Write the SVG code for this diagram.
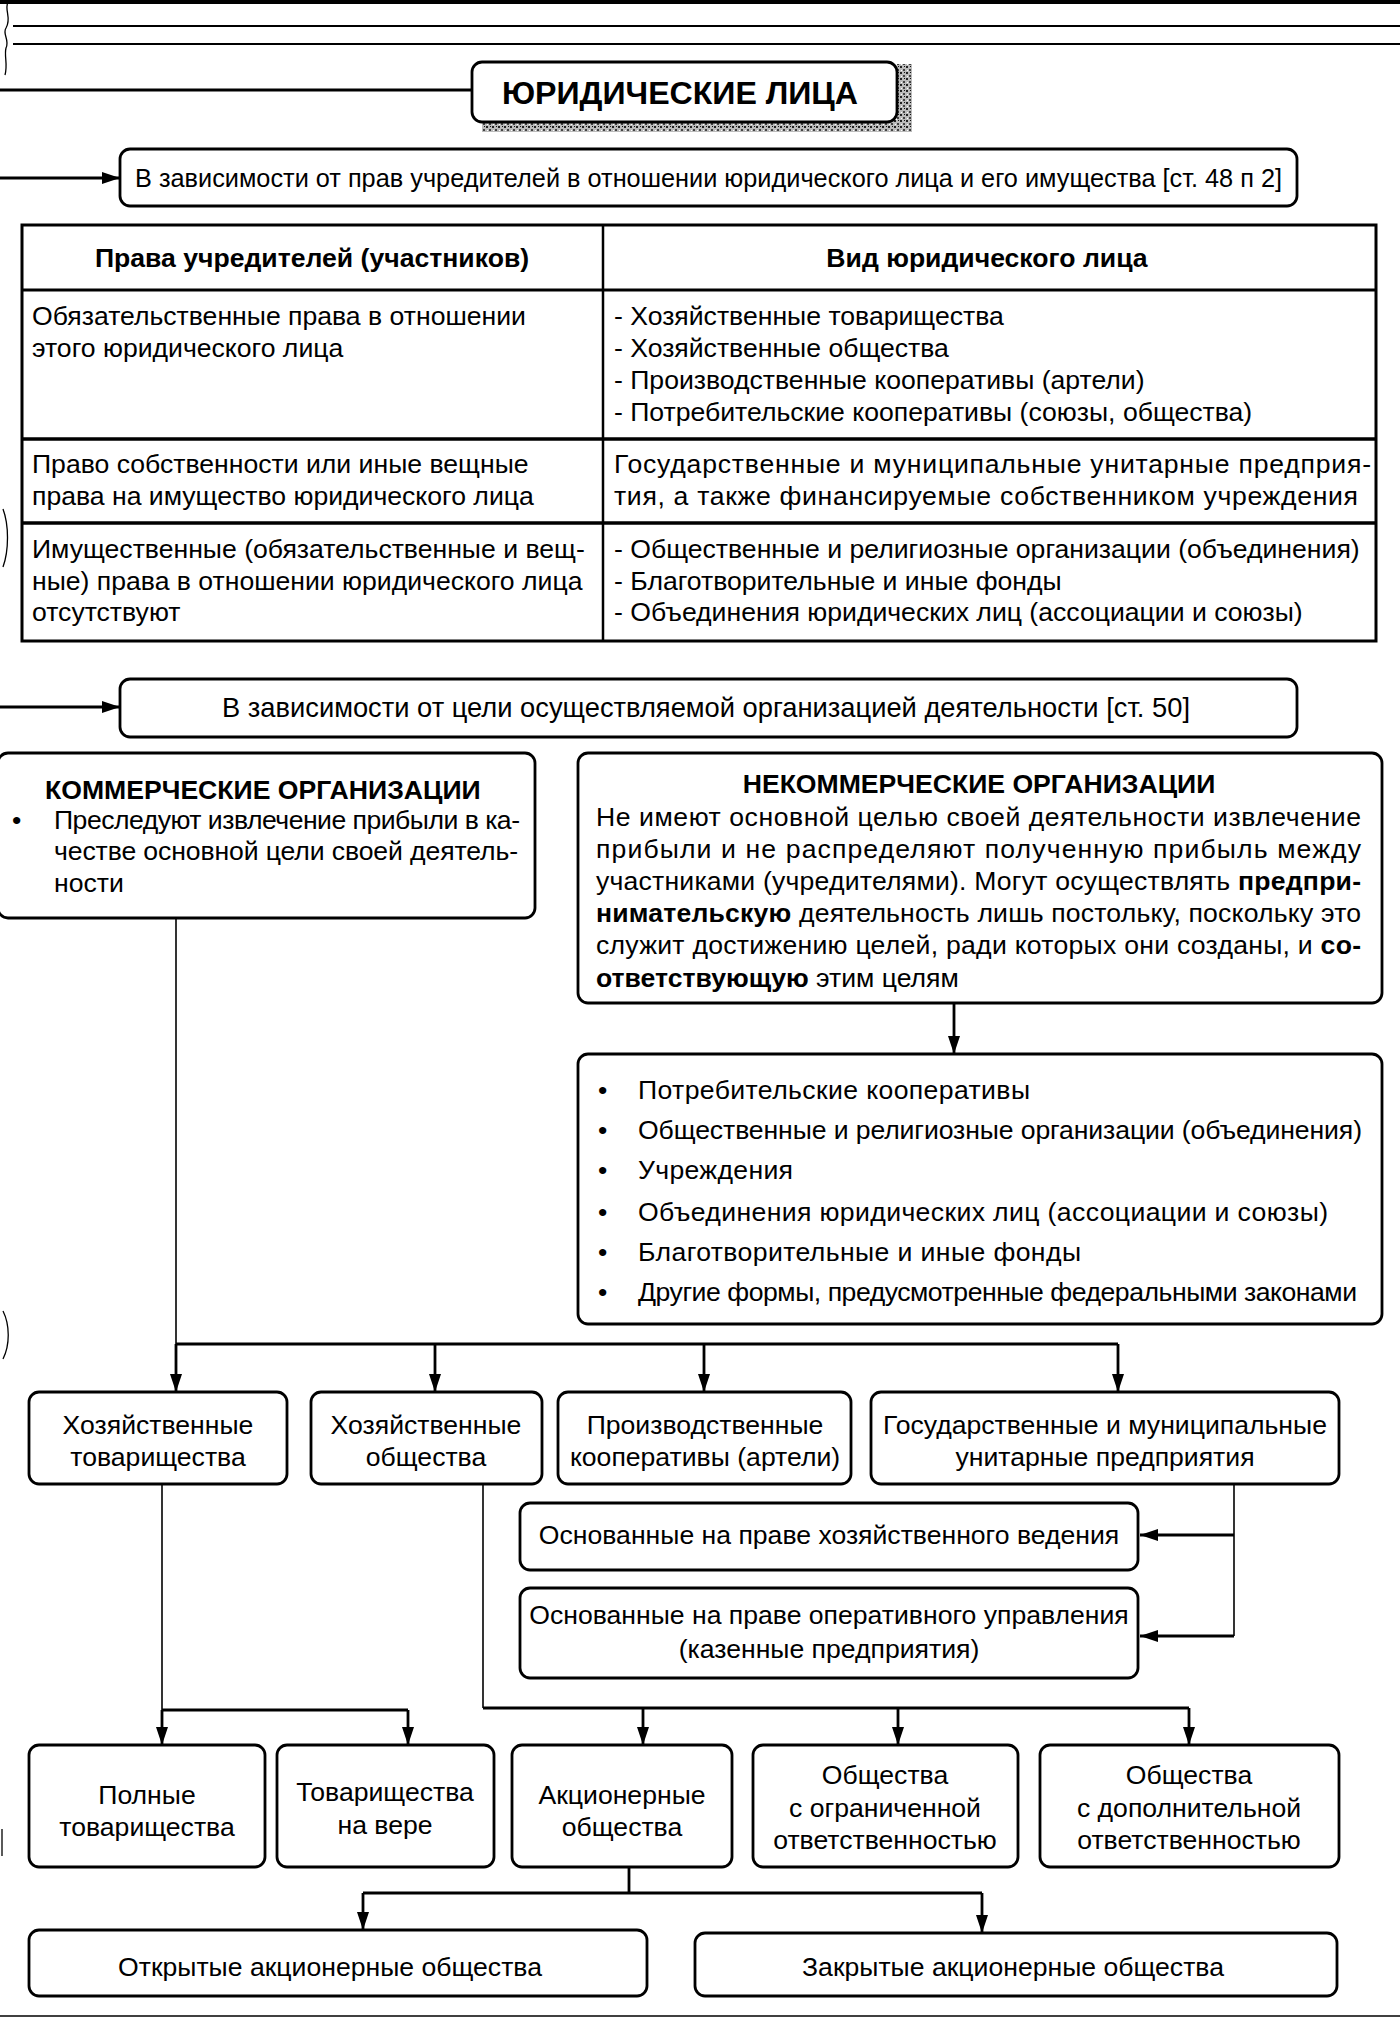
<svg xmlns="http://www.w3.org/2000/svg" width="1400" height="2019" viewBox="0 0 1400 2019">
<defs>
<style>
.box{fill:#fff;stroke:#000;stroke-width:2.8}
.t{font-family:"Liberation Sans",Arial,sans-serif;font-size:26.6px;fill:#000}
.b{font-weight:bold}
.c{text-anchor:middle}
.ln{fill:none;stroke:#000;stroke-width:2.8}
.thin{fill:none;stroke:#000;stroke-width:1.6}
.mark{fill:none;stroke:#000;stroke-width:1.3}
</style>
<marker id="ah" markerUnits="userSpaceOnUse" markerWidth="18" markerHeight="12" refX="18" refY="6" orient="auto">
<path d="M0,0 L18,6 L0,12 z" fill="#000"/>
</marker>
<pattern id="spk" width="6" height="6" patternUnits="userSpaceOnUse">
<rect width="6" height="6" fill="#bbb"/>
<rect x="0" y="0" width="2" height="2" fill="#222"/>
<rect x="3" y="3" width="2" height="2" fill="#444"/>
<rect x="4" y="0" width="1" height="1" fill="#111"/>
<rect x="1" y="4" width="1" height="1" fill="#fff"/>
</pattern>
</defs>
<rect width="1400" height="2019" fill="#fff"/>

<!-- page decorations -->
<g id="page">
<rect x="0" y="0" width="1400" height="4" fill="#000"/>
<line x1="13" y1="26" x2="1400" y2="26" stroke="#000" stroke-width="2"/>
<line x1="13" y1="44" x2="1400" y2="44" stroke="#000" stroke-width="2"/>
<path class="mark" d="M8,2 C4,10 12,18 6,28 C2,34 10,40 6,48 C4,56 8,64 5,75"/>
<path class="mark" d="M3,509 C9,525 9,550 3,567"/>
<path class="mark" d="M3,1311 C10,1325 10,1345 3,1359"/>
<path class="mark" d="M2,1829 L2,1856"/>
<line x1="0" y1="2016" x2="1400" y2="2016" stroke="#000" stroke-width="1.6"/>
</g>

<!-- connectors -->
<g id="connectors">
<line class="ln" x1="0" y1="90" x2="472" y2="90"/>
<line class="ln" x1="0" y1="178" x2="120" y2="178" marker-end="url(#ah)"/>
<line class="ln" x1="0" y1="707" x2="120" y2="707" marker-end="url(#ah)"/>
<line class="ln" x1="954" y1="1003" x2="954" y2="1054" marker-end="url(#ah)"/>
<line class="thin" x1="176" y1="918" x2="176" y2="1344"/>
<line class="ln" x1="176" y1="1344" x2="1118" y2="1344"/>
<line class="ln" x1="176" y1="1344" x2="176" y2="1392" marker-end="url(#ah)"/>
<line class="ln" x1="435" y1="1344" x2="435" y2="1392" marker-end="url(#ah)"/>
<line class="ln" x1="704" y1="1344" x2="704" y2="1392" marker-end="url(#ah)"/>
<line class="ln" x1="1118" y1="1344" x2="1118" y2="1392" marker-end="url(#ah)"/>
<polyline class="thin" points="1234,1484 1234,1636"/>
<line class="ln" x1="1234" y1="1535" x2="1140" y2="1535" marker-end="url(#ah)"/>
<line class="ln" x1="1234" y1="1636" x2="1140" y2="1636" marker-end="url(#ah)"/>
<line class="thin" x1="162" y1="1484" x2="162" y2="1710"/>
<line class="ln" x1="162" y1="1710" x2="408" y2="1710"/>
<line class="ln" x1="162" y1="1710" x2="162" y2="1745" marker-end="url(#ah)"/>
<line class="ln" x1="408" y1="1710" x2="408" y2="1745" marker-end="url(#ah)"/>
<line class="thin" x1="483" y1="1484" x2="483" y2="1708"/>
<line class="ln" x1="483" y1="1708" x2="1189" y2="1708"/>
<line class="ln" x1="643" y1="1708" x2="643" y2="1745" marker-end="url(#ah)"/>
<line class="ln" x1="898" y1="1708" x2="898" y2="1745" marker-end="url(#ah)"/>
<line class="ln" x1="1189" y1="1708" x2="1189" y2="1745" marker-end="url(#ah)"/>
<line class="ln" x1="629" y1="1867" x2="629" y2="1893"/>
<line class="ln" x1="363" y1="1893" x2="982" y2="1893"/>
<line class="ln" x1="363" y1="1893" x2="363" y2="1930" marker-end="url(#ah)"/>
<line class="ln" x1="982" y1="1893" x2="982" y2="1933" marker-end="url(#ah)"/>
</g>

<!-- title -->
<g id="title">
<rect x="482" y="120" width="430" height="12" fill="url(#spk)"/>
<rect x="897" y="64" width="15" height="68" fill="url(#spk)"/>
<rect class="box" x="472" y="62" width="425" height="60" rx="10" stroke-width="3.2"/>
<text class="t b" x="502" y="104" style="font-size:32px" textLength="356" lengthAdjust="spacingAndGlyphs">ЮРИДИЧЕСКИЕ ЛИЦА</text>
</g>

<g id="crit1">
<rect class="box" x="120" y="149" width="1177" height="57" rx="10"/>
<text class="t" x="135" y="187" style="font-size:25.3px" textLength="1147" lengthAdjust="spacing">В зависимости от прав учредителей в отношении юридического лица и его имущества [ст. 48 п  2]</text>
</g>

<g id="table">
<rect x="22" y="225" width="1354" height="416" fill="#fff" stroke="#000" stroke-width="3"/>
<line x1="22" y1="290" x2="1376" y2="290" stroke="#000" stroke-width="3"/>
<line x1="22" y1="439" x2="1376" y2="439" stroke="#000" stroke-width="3.5"/>
<line x1="22" y1="523" x2="1376" y2="523" stroke="#000" stroke-width="3.5"/>
<line x1="603" y1="225" x2="603" y2="641" stroke="#000" stroke-width="2.5"/>
<text class="t b c" x="312" y="267">Права учредителей (участников)</text>
<text class="t b c" x="987" y="267">Вид юридического лица</text>
<text class="t" x="32" y="325">Обязательственные права в отношении</text>
<text class="t" x="32" y="357">этого юридического лица</text>
<text class="t" x="614" y="325">- Хозяйственные товарищества</text>
<text class="t" x="614" y="357">- Хозяйственные общества</text>
<text class="t" x="614" y="389">- Производственные кооперативы (артели)</text>
<text class="t" x="614" y="421">- Потребительские кооперативы (союзы, общества)</text>
<text class="t" x="32" y="473">Право собственности или иные вещные</text>
<text class="t" x="32" y="505">права на имущество юридического лица</text>
<text class="t" x="614" y="473" textLength="757" lengthAdjust="spacing">Государственные и муниципальные унитарные предприя-</text>
<text class="t" x="614" y="505" textLength="744" lengthAdjust="spacing">тия, а также финансируемые собственником учреждения</text>
<text class="t" x="32" y="558">Имущественные (обязательственные и вещ-</text>
<text class="t" x="32" y="590">ные) права в отношении юридического лица</text>
<text class="t" x="32" y="621">отсутствуют</text>
<text class="t" x="614" y="558">- Общественные и религиозные организации (объединения)</text>
<text class="t" x="614" y="590">- Благотворительные и иные фонды</text>
<text class="t" x="614" y="621">- Объединения юридических лиц (ассоциации и союзы)</text>
</g>

<g id="crit2">
<rect class="box" x="120" y="679" width="1177" height="58" rx="10"/>
<text class="t c" x="706" y="717" style="font-size:27.3px">В зависимости от цели осуществляемой организацией деятельности [ст. 50]</text>
</g>

<g id="commercial">
<rect class="box" x="-2" y="753" width="537" height="165" rx="10"/>
<text class="t b" x="45" y="799">КОММЕРЧЕСКИЕ ОРГАНИЗАЦИИ</text>
<text class="t" x="12" y="829">•</text>
<text class="t" x="54" y="829" textLength="466" lengthAdjust="spacing">Преследуют извлечение прибыли в ка-</text>
<text class="t" x="54" y="860" textLength="464" lengthAdjust="spacing">честве основной цели своей деятель-</text>
<text class="t" x="54" y="892">ности</text>
</g>

<g id="noncommercial">
<rect class="box" x="578" y="753" width="804" height="250" rx="10"/>
<text class="t b c" x="979" y="793">НЕКОММЕРЧЕСКИЕ ОРГАНИЗАЦИИ</text>
<text class="t" x="596" y="826" textLength="765" lengthAdjust="spacing">Не имеют основной целью своей деятельности извлечение</text>
<text class="t" x="596" y="858" textLength="765" lengthAdjust="spacing">прибыли и не  распределяют полученную прибыль  между</text>
<text class="t" x="596" y="890" textLength="765" lengthAdjust="spacing">участниками (учредителями). Могут осуществлять <tspan class="b">предпри-</tspan></text>
<text class="t" x="596" y="922" textLength="765" lengthAdjust="spacing"><tspan class="b">нимательскую</tspan> деятельность лишь постольку, поскольку это</text>
<text class="t" x="596" y="954" textLength="765" lengthAdjust="spacing">служит достижению целей, ради которых они созданы, и <tspan class="b">со-</tspan></text>
<text class="t" x="596" y="987"><tspan class="b">ответствующую</tspan> этим целям</text>
</g>

<g id="nclist">
<rect class="box" x="578" y="1054" width="804" height="270" rx="10"/>
<text class="t" x="598" y="1099">•</text>
<text class="t" x="638" y="1099" textLength="392" lengthAdjust="spacing">Потребительские кооперативы</text>
<text class="t" x="598" y="1139">•</text>
<text class="t" x="638" y="1139" textLength="724" lengthAdjust="spacing">Общественные и религиозные организации (объединения)</text>
<text class="t" x="598" y="1179">•</text>
<text class="t" x="638" y="1179" textLength="155" lengthAdjust="spacing">Учреждения</text>
<text class="t" x="598" y="1221">•</text>
<text class="t" x="638" y="1221" textLength="690" lengthAdjust="spacing">Объединения юридических лиц (ассоциации и союзы)</text>
<text class="t" x="598" y="1261">•</text>
<text class="t" x="638" y="1261" textLength="443" lengthAdjust="spacing">Благотворительные и иные фонды</text>
<text class="t" x="598" y="1301">•</text>
<text class="t" x="638" y="1301" textLength="719" lengthAdjust="spacing">Другие формы, предусмотренные федеральными законами</text>
</g>

<g id="khoz-tov">
<rect class="box" x="29" y="1392" width="258" height="92" rx="10"/>
<text class="t c" x="158" y="1434">Хозяйственные</text>
<text class="t c" x="158" y="1466">товарищества</text>
</g>
<g id="khoz-obsh">
<rect class="box" x="311" y="1392" width="231" height="92" rx="10"/>
<text class="t c" x="426" y="1434">Хозяйственные</text>
<text class="t c" x="426" y="1466">общества</text>
</g>
<g id="proizv-koop">
<rect class="box" x="558" y="1392" width="293" height="92" rx="10"/>
<text class="t c" x="705" y="1434">Производственные</text>
<text class="t c" x="705" y="1466">кооперативы (артели)</text>
</g>
<g id="gos-mun">
<rect class="box" x="871" y="1392" width="468" height="92" rx="10"/>
<text class="t c" x="1105" y="1434">Государственные и муниципальные</text>
<text class="t c" x="1105" y="1466">унитарные предприятия</text>
</g>
<g id="khoz-ved">
<rect class="box" x="520" y="1503" width="618" height="67" rx="10"/>
<text class="t c" x="829" y="1544">Основанные на праве хозяйственного ведения</text>
</g>
<g id="oper-upr">
<rect class="box" x="520" y="1588" width="618" height="90" rx="10"/>
<text class="t c" x="829" y="1624">Основанные на праве оперативного управления</text>
<text class="t c" x="829" y="1658">(казенные предприятия)</text>
</g>

<g id="polnye">
<rect class="box" x="29" y="1745" width="236" height="122" rx="10"/>
<text class="t c" x="147" y="1804">Полные</text>
<text class="t c" x="147" y="1836">товарищества</text>
</g>
<g id="vera">
<rect class="box" x="277" y="1745" width="217" height="122" rx="10"/>
<text class="t c" x="385" y="1801">Товарищества</text>
<text class="t c" x="385" y="1834">на вере</text>
</g>
<g id="ao">
<rect class="box" x="512" y="1745" width="220" height="122" rx="10"/>
<text class="t c" x="622" y="1804">Акционерные</text>
<text class="t c" x="622" y="1836">общества</text>
</g>
<g id="ooo">
<rect class="box" x="753" y="1745" width="265" height="122" rx="10"/>
<text class="t c" x="885" y="1784">Общества</text>
<text class="t c" x="885" y="1817">с ограниченной</text>
<text class="t c" x="885" y="1849">ответственностью</text>
</g>
<g id="odo">
<rect class="box" x="1040" y="1745" width="299" height="122" rx="10"/>
<text class="t c" x="1189" y="1784">Общества</text>
<text class="t c" x="1189" y="1817">с дополнительной</text>
<text class="t c" x="1189" y="1849">ответственностью</text>
</g>
<g id="oao">
<rect class="box" x="29" y="1930" width="618" height="66" rx="10"/>
<text class="t c" x="330" y="1976">Открытые акционерные общества</text>
</g>
<g id="zao">
<rect class="box" x="695" y="1933" width="642" height="63" rx="10"/>
<text class="t c" x="1013" y="1976">Закрытые акционерные общества</text>
</g>
</svg>
